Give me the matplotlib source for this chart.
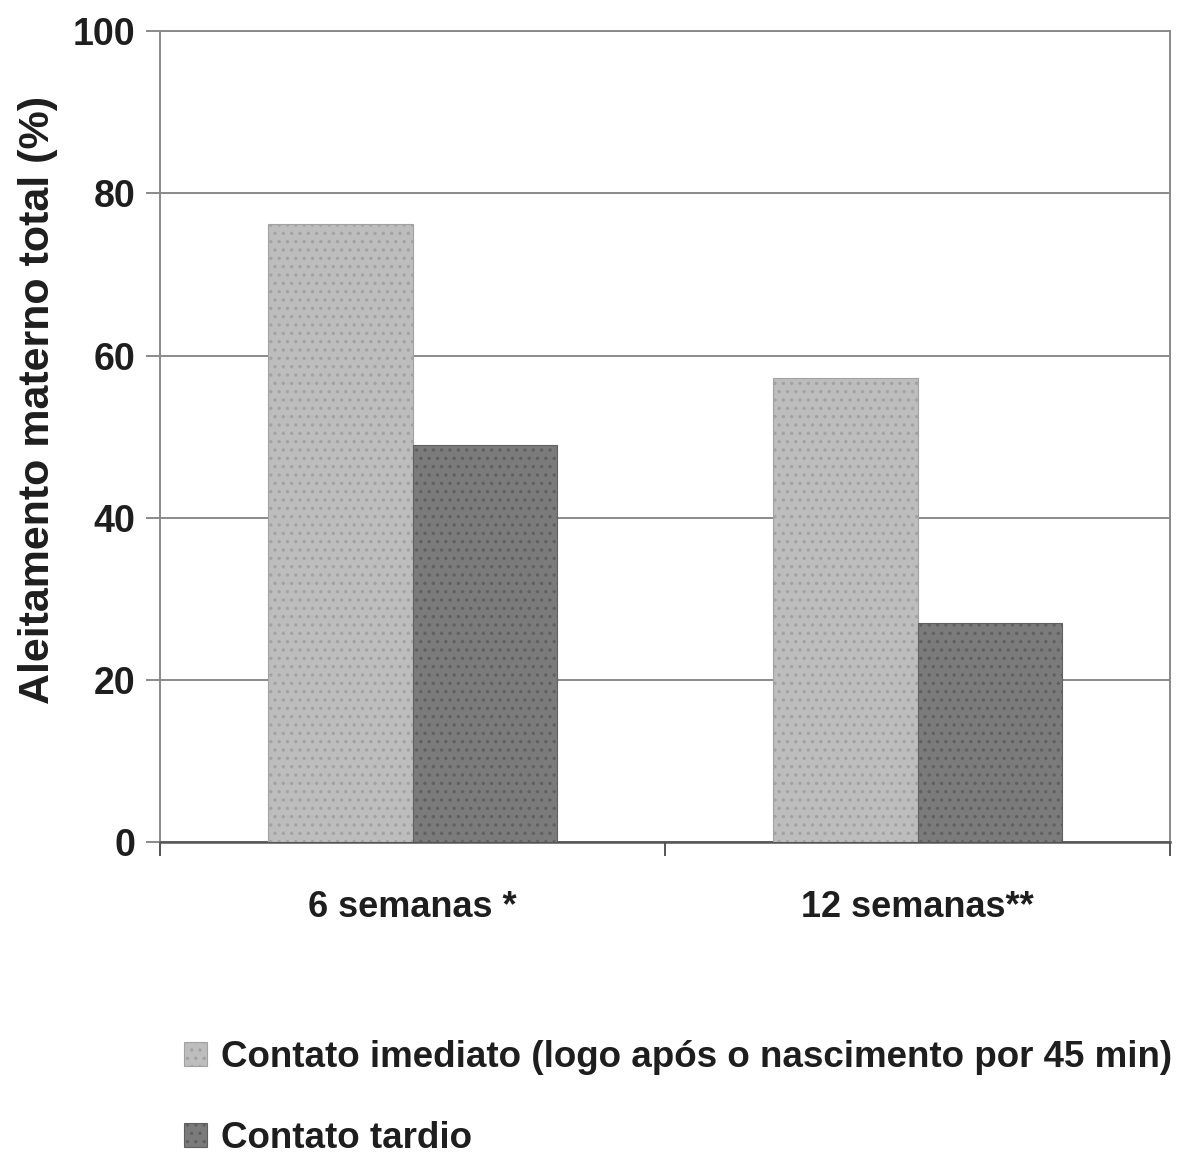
import matplotlib.pyplot as plt
import numpy as np

periods = ["6 semanas *", "12 semanas**"]
imediato = [76.2, 57.2]
tardio = [49.0, 27.0]
series_names = ["Contato imediato (logo após o nascimento por 45 min)", "Contato tardio"]

plt.rcParams["font.family"] = ["Liberation Sans", "DejaVu Sans"]
plt.rcParams["font.weight"] = "bold"
plt.rcParams["hatch.linewidth"] = 1.2

ink = "#1e1e1e"
grid = "#8a8a8a"

fig = plt.figure(figsize=(11.82, 11.58), dpi=100)
ax = fig.add_axes([0.1354, 0.2725, 0.8545, 0.7007])

x = np.arange(len(periods))
w = 0.287
b1 = ax.bar(x - w / 2, imediato, w, color="#bdbdbd", edgecolor="#a2a2a2",
            hatch="..", linewidth=0.8, label=series_names[0], zorder=3)
b2 = ax.bar(x + w / 2, tardio, w, color="#7b7b7b", edgecolor="#606060",
            hatch="..", linewidth=0.8, label=series_names[1], zorder=3)

ax.set_xlim(-0.5, 1.5)
ax.set_ylim(0, 100)
ax.set_yticks([0, 20, 40, 60, 80, 100])
ax.yaxis.grid(True, color=grid, linewidth=1.4, zorder=0)
ax.set_axisbelow(True)

for side in ["left", "right", "top", "bottom"]:
    ax.spines[side].set_color(grid)
    ax.spines[side].set_linewidth(1.4)
ax.spines["bottom"].set_color("#555555")
ax.spines["bottom"].set_linewidth(1.8)

ax.tick_params(axis="y", length=10, width=1.4, color=grid, pad=8,
               labelsize=27, labelcolor=ink)
ax.set_xticks(x)
ax.set_xticklabels(periods)
ax.set_xticks([-0.5, 0.5, 1.5], minor=True)
ax.tick_params(axis="x", which="major", length=0, pad=34, labelsize=26, labelcolor=ink)
ax.tick_params(axis="x", which="minor", length=10, width=1.4, color="#555555")

ax.set_ylabel("Aleitamento materno total (%)", fontsize=31, fontweight="bold", color=ink)
ax.yaxis.set_label_coords(-0.101, 0.545)

fig.legend(handles=[b1, b2], labels=series_names, loc="upper left",
           bbox_to_anchor=(0.143, 0.1145), frameon=False, fontsize=26.5,
           labelcolor=ink, handlelength=0.62, handleheight=0.62,
           handletextpad=0.4, labelspacing=1.25, borderaxespad=0)

fig.savefig("out.png", dpi=100)
